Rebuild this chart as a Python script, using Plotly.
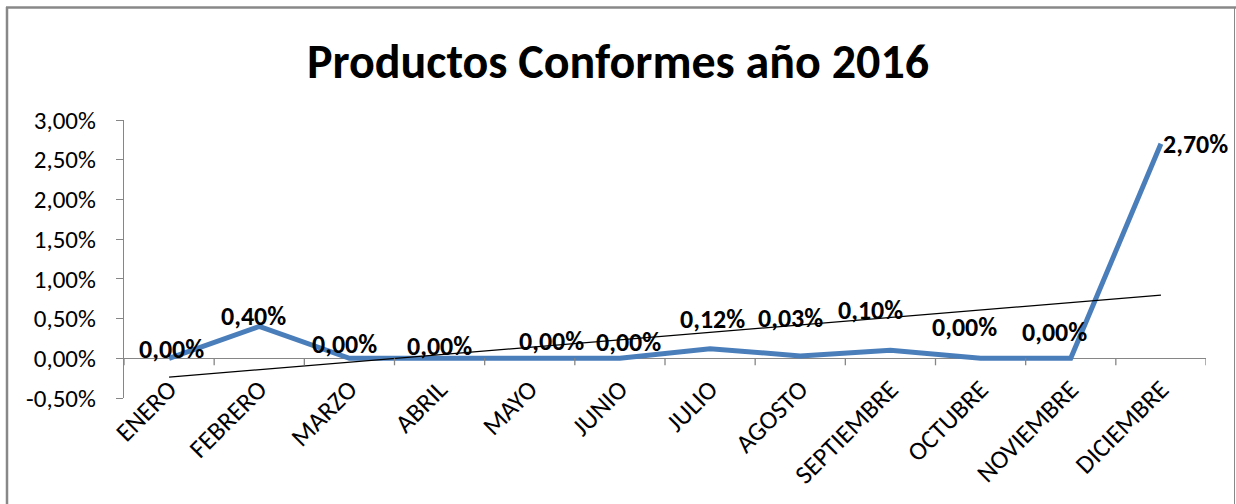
import numpy as np
import plotly.graph_objects as go

# ---- data ----
months = ["ENERO", "FEBRERO", "MARZO", "ABRIL", "MAYO", "JUNIO", "JULIO",
          "AGOSTO", "SEPTIEMBRE", "OCTUBRE", "NOVIEMBRE", "DICIEMBRE"]
values = [0.00, 0.40, 0.00, 0.00, 0.00, 0.00, 0.12, 0.03, 0.10, 0.00, 0.00, 2.70]  # percent
value_labels = ["0,00%", "0,40%", "0,00%", "0,00%", "0,00%", "0,00%", "0,12%",
                "0,03%", "0,10%", "0,00%", "0,00%", "2,70%"]
y_ticks = [-0.5, 0.0, 0.5, 1.0, 1.5, 2.0, 2.5, 3.0]
y_tick_labels = ["-0,50%", "0,00%", "0,50%", "1,00%", "1,50%", "2,00%", "2,50%", "3,00%"]
title = "Productos Conformes año 2016"

# ---- layout constants (style) ----
W, H = 1236, 504
L, R, T, B = 124, 30, 120, 106
FONT = "Carlito, Lato, sans-serif"
label_offsets = [(2, 9), (-6, 11), (-5, 14), (0, 12), (22, 17), (9, 16), (2, 30),
                 (-10, 38), (-20, 40), (-16, 31), (-16, 26), (35, 0)]

xi = np.arange(len(months))
slope, intercept = np.polyfit(xi, np.array(values), 1)
trend = slope * xi + intercept

fig = go.Figure()
fig.add_trace(go.Scatter(x=xi, y=values, mode="lines",
                         line=dict(color="#4A7EBB", width=5), hoverinfo="skip"))
fig.add_trace(go.Scatter(x=[xi[0], xi[-1]], y=[trend[0], trend[-1]], mode="lines",
                         line=dict(color="black", width=1.3), hoverinfo="skip"))

for i, (v, t) in enumerate(zip(values, value_labels)):
    dx, dy = label_offsets[i]
    fig.add_annotation(x=xi[i], y=v, text=f"<b>{t}</b>", showarrow=False,
                       xshift=dx, yshift=dy, font=dict(family=FONT, size=26, color="black"))

plot_w = W - L - R
plot_h = H - T - B
def px(xp):
    return (xp - L) / plot_w
def py(yp):
    return (H - B - yp) / plot_h

shapes = []
# x-axis tick marks at category boundaries on the zero line
for k in range(len(months) + 1):
    shapes.append(dict(type="line", xref="x", yref="y", ysizemode="pixel", yanchor=0,
                       x0=k - 0.5, x1=k - 0.5, y0=0, y1=-7,
                       line=dict(color="#868686", width=1.3)))
# chart border
border = "#888888"
shapes.append(dict(type="line", xref="paper", yref="paper", x0=px(6), x1=px(1236),
                   y0=py(7.5), y1=py(7.5), line=dict(color=border, width=2.5)))
shapes.append(dict(type="line", xref="paper", yref="paper", x0=px(7), x1=px(7),
                   y0=py(7), y1=py(510), line=dict(color=border, width=2.5)))
shapes.append(dict(type="line", xref="paper", yref="paper", x0=px(1234.5), x1=px(1234.5),
                   y0=py(7), y1=py(510), line=dict(color=border, width=1)))

fig.update_layout(
    width=W, height=H, margin=dict(l=L, r=R, t=T, b=B, autoexpand=False),
    paper_bgcolor="white", plot_bgcolor="white", showlegend=False,
    title=dict(text=f"<b>{title}</b>", x=0.5, xref="container", xanchor="center",
               y=1 - 61 / H, yanchor="middle",
               font=dict(family=FONT, size=48, color="black")),
    shapes=shapes,
    xaxis=dict(range=[-0.5, len(months) - 0.5], tickvals=xi, ticktext=months,
               tickangle=-45, showline=False, showgrid=False, zeroline=False,
               ticks="", anchor="free", position=0.108, automargin=False,
               tickfont=dict(family=FONT, size=26, color="black")),
    yaxis=dict(range=[-0.5, 3.0], tickvals=y_ticks, ticktext=y_tick_labels,
               showline=True, linecolor="#868686", linewidth=1.3,
               ticks="outside", ticklen=7, tickcolor="#868686", tickwidth=1.3,
               ticklabelstandoff=15, automargin=False,
               showgrid=False, zeroline=True, zerolinecolor="#868686", zerolinewidth=1.3,
               tickfont=dict(family=FONT, size=25, color="black")),
)

fig.write_html("out.html")
